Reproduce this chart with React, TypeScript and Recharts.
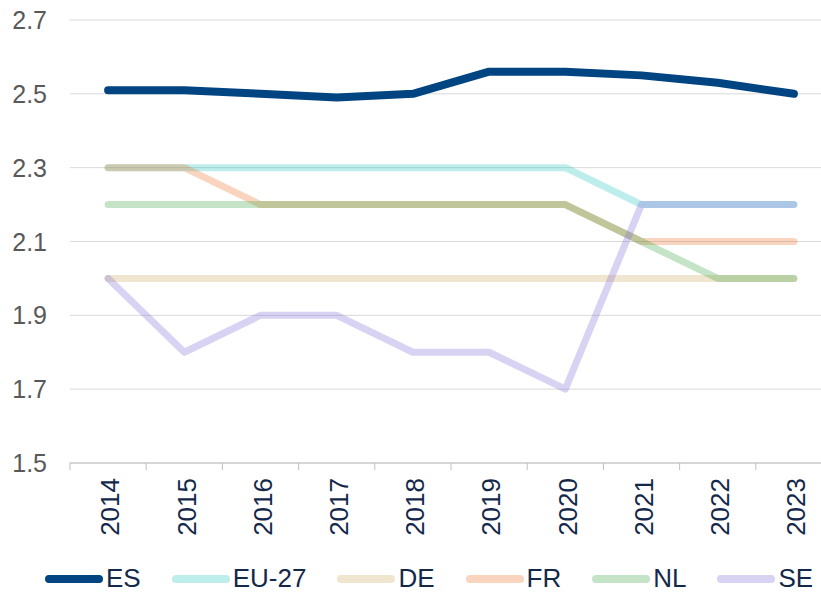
import React from "react";
import { LineChart, Line, XAxis, YAxis, CartesianGrid, Legend } from "recharts";

const years = ["2014", "2015", "2016", "2017", "2018", "2019", "2020", "2021", "2022", "2023"];
const es = [2.51, 2.51, 2.5, 2.49, 2.5, 2.56, 2.56, 2.55, 2.53, 2.5];
const eu27 = [2.3, 2.3, 2.3, 2.3, 2.3, 2.3, 2.3, 2.2, 2.2, 2.2];
const de = [2.0, 2.0, 2.0, 2.0, 2.0, 2.0, 2.0, 2.0, 2.0, 2.0];
const fr = [2.3, 2.3, 2.2, 2.2, 2.2, 2.2, 2.2, 2.1, 2.1, 2.1];
const nl = [2.2, 2.2, 2.2, 2.2, 2.2, 2.2, 2.2, 2.1, 2.0, 2.0];
const se = [2.0, 1.8, 1.9, 1.9, 1.8, 1.8, 1.7, 2.2, 2.2, 2.2];
const yTicks = [1.5, 1.7, 1.9, 2.1, 2.3, 2.5, 2.7];

const data = years.map((year, i) => ({
  year,
  ES: es[i],
  "EU-27": eu27[i],
  DE: de[i],
  FR: fr[i],
  NL: nl[i],
  SE: se[i],
}));

// legend order; opacity gives the faded look where lines overlap
const series = [
  { key: "ES", color: "#004481", opacity: 1, width: 8 },
  { key: "EU-27", color: "#23c6bc", opacity: 0.3, width: 7 },
  { key: "DE", color: "#cdac5f", opacity: 0.3, width: 7 },
  { key: "FR", color: "#eb732a", opacity: 0.3, width: 7 },
  { key: "NL", color: "#3ea244", opacity: 0.3, width: 7 },
  { key: "SE", color: "#806cd7", opacity: 0.3, width: 7 },
];
const drawOrder = ["DE", "EU-27", "FR", "NL", "SE", "ES"];

const FONT = "'Liberation Sans', Arial, sans-serif";
const PLOT_LEFT = 70;
const CHART_W = 832;
const BAND = (CHART_W - PLOT_LEFT) / years.length;

function XTick(props: any) {
  const { x, y, payload, index } = props;
  const left = x - BAND / 2;
  return (
    <g>
      <line x1={left} y1={y} x2={left} y2={y + 7} stroke="#bfbfbf" />
      {index === years.length - 1 && (
        <line x1={x + BAND / 2} y1={y} x2={x + BAND / 2} y2={y + 7} stroke="#bfbfbf" />
      )}
      <text
        x={x + 2}
        y={y + 15}
        transform={`rotate(-90, ${x + 2}, ${y + 15})`}
        textAnchor="end"
        dy="0.36em"
        fontSize={26}
        fontFamily={FONT}
        fill="#14284b"
      >
        {payload.value}
      </text>
    </g>
  );
}

function YTick(props: any) {
  const { y, payload } = props;
  return (
    <text x={47} y={y} dy="0.36em" textAnchor="end" fontSize={25} fontFamily={FONT} fill="#595959">
      {payload.value.toFixed(1)}
    </text>
  );
}

function LegendContent() {
  return (
    <div style={{ position: "relative", height: 31, fontFamily: FONT, whiteSpace: "nowrap" }}>
      <div style={{ position: "absolute", left: 45, top: 0, display: "flex", alignItems: "center", height: 31 }}>
        {series.map((s) => (
          <span key={s.key} style={{ display: "inline-flex", alignItems: "center", marginRight: 31 }}>
            <span
              style={{
                display: "inline-block",
                width: 58,
                height: 8,
                borderRadius: 4,
                background: s.color,
                opacity: s.opacity,
                marginRight: 3,
              }}
            />
            <span style={{ fontSize: 26, color: "#14284b", lineHeight: "31px" }}>{s.key}</span>
          </span>
        ))}
      </div>
    </div>
  );
}

export default function App() {
  return (
    <div style={{ position: "fixed", top: 0, left: 0, width: 821, height: 594, overflow: "hidden", background: "#fff" }}>
      <LineChart width={CHART_W} height={594} data={data} margin={{ top: 20, right: 0, bottom: 0, left: 0 }}>
        <CartesianGrid vertical={false} stroke="#d9d9d9" />
        <XAxis
          dataKey="year"
          height={100}
          stroke="#bfbfbf"
          tickLine={false}
          tickSize={0}
          tickMargin={0}
          interval={0}
          padding={{ left: BAND / 2, right: BAND / 2 }}
          tick={<XTick />}
        />
        <YAxis
          width={PLOT_LEFT}
          domain={[1.5, 2.7]}
          ticks={yTicks}
          axisLine={false}
          tickLine={false}
          tick={<YTick />}
        />
        <Legend
          verticalAlign="bottom"
          content={<LegendContent />}
          wrapperStyle={{ left: 0, width: 821 }}
        />
        {drawOrder.map((k) => {
          const s = series.find((x) => x.key === k)!;
          return (
            <Line
              key={k}
              type="linear"
              dataKey={k}
              stroke={s.color}
              strokeOpacity={s.opacity}
              strokeWidth={s.width}
              strokeLinecap="round"
              strokeLinejoin="round"
              dot={false}
              activeDot={false}
              isAnimationActive={false}
            />
          );
        })}
      </LineChart>
    </div>
  );
}
